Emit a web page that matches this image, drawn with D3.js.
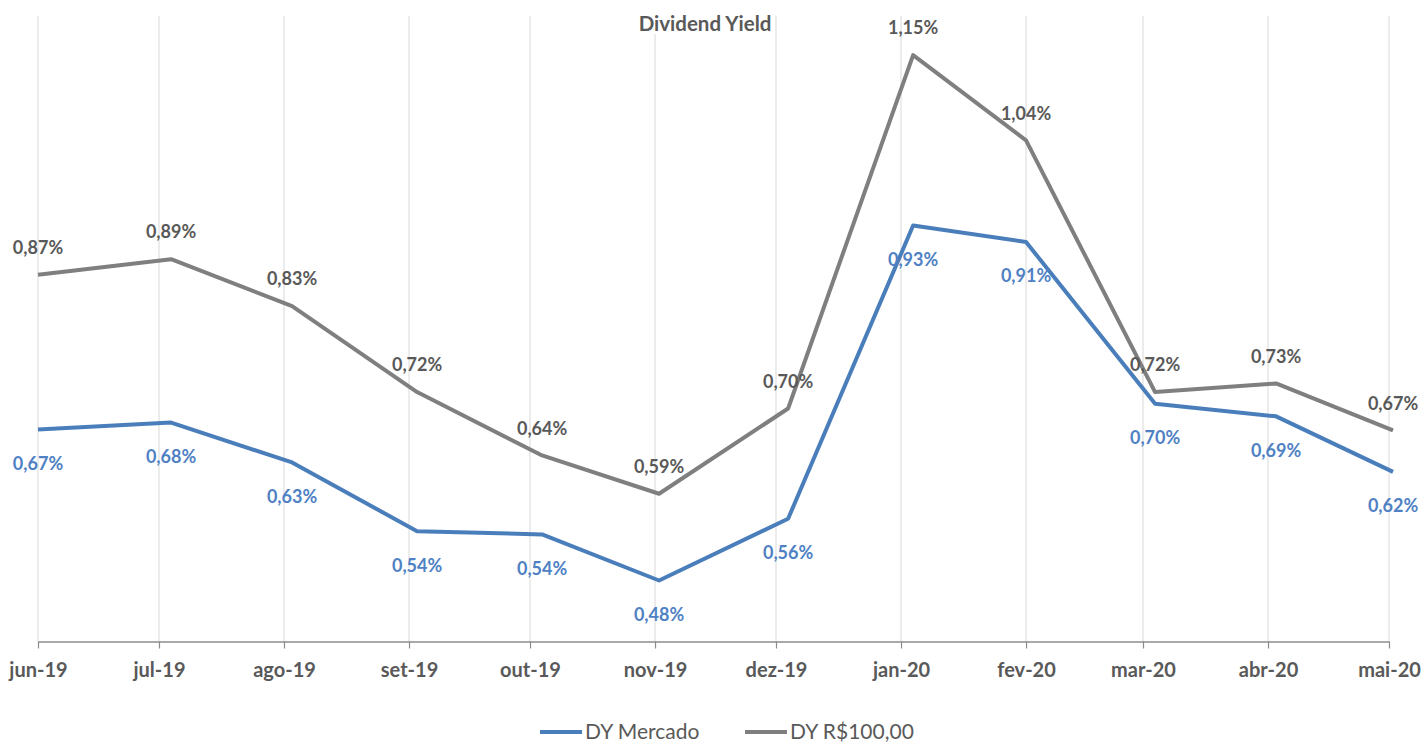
<!DOCTYPE html>
<html>
<head>
<meta charset="utf-8">
<script src="https://cdn.jsdelivr.net/npm/d3@7"></script>
<style>
  body { margin: 0; background: #fff; }
  svg { display: block; font-family: Lato, "Open Sans", sans-serif; }
</style>
</head>
<body>
<svg id="chart" width="1428" height="744"></svg>
<script>
// month ticks on the axis
const months = ["jun-19", "jul-19", "ago-19", "set-19", "out-19", "nov-19",
  "dez-19", "jan-20", "fev-20", "mar-20", "abr-20", "mai-20"];
// the day each value was taken (date axis, like the original sheet)
const dates = ["2019-06-01", "2019-07-04", "2019-08-03", "2019-09-03", "2019-10-04", "2019-11-02",
  "2019-12-04", "2020-01-04", "2020-02-01", "2020-03-04", "2020-04-03", "2020-05-02"];
const dyMercado = [0.671, 0.680, 0.629, 0.541, 0.537, 0.478, 0.557, 0.932, 0.911, 0.704, 0.688, 0.617];
const dyR100 = [0.869, 0.889, 0.829, 0.719, 0.638, 0.589, 0.698, 1.150, 1.041, 0.719, 0.730, 0.670];

const plotLeft = 38, plotRight = 1389, plotTop = 16, plotBottom = 641.5;

const parse = d3.utcParse("%Y-%m-%d");
const tickDates = months.map((m, i) => d3.utcMonth.offset(parse("2019-06-01"), i));

const x = d3.scaleUtc([tickDates[0], tickDates[tickDates.length - 1]], [plotLeft, plotRight]);
const y = d3.scaleLinear([0.4, 1.2], [plotBottom, plotTop]);

const svg = d3.select("#chart");
const fmt = v => d3.format(".2f")(v).replace(".", ",") + "%";

// vertical gridlines
svg.append("g")
  .selectAll("line")
  .data(tickDates)
  .join("line")
  .attr("x1", d => x(d)).attr("x2", d => x(d))
  .attr("y1", plotTop).attr("y2", plotBottom)
  .attr("stroke", "#d9d9d9")
  .attr("stroke-width", 1);

// x axis
const xAxis = svg.append("g")
  .attr("transform", `translate(0,${plotBottom})`)
  .call(d3.axisBottom(x)
    .tickValues(tickDates)
    .tickFormat((d, i) => months[i])
    .tickSizeInner(7)
    .tickSizeOuter(0)
    .tickPadding(14));
xAxis.select(".domain").attr("stroke", "#8c8c8c").attr("stroke-width", 1.5);
xAxis.selectAll(".tick line").attr("stroke", "#8c8c8c").attr("stroke-width", 1.2);
xAxis.selectAll(".tick text")
  .attr("fill", "#595959")
  .attr("font-size", 20)
  .attr("font-weight", "bold")
  .attr("font-family", "Lato, sans-serif");

// title with white box behind it
const title = svg.append("g");
title.append("rect")
  .attr("x", 638).attr("y", 8).attr("width", 134).attr("height", 26)
  .attr("fill", "#fff");
title.append("text")
  .attr("x", 705).attr("y", 31)
  .attr("text-anchor", "middle")
  .attr("fill", "#595959")
  .attr("font-size", 20.5)
  .attr("font-weight", "bold")
  .text("Dividend Yield");

const series = [
  {name: "DY Mercado", values: dyMercado, color: "#4a7ebb", label: "#4f81c4", dy: 34},
  {name: "DY R$100,00", values: dyR100, color: "#7f7f7f", label: "#595959", dy: -27}
];

const line = d3.line()
  .x((d, i) => x(parse(dates[i])))
  .y(d => y(d));

svg.append("g")
  .selectAll("path")
  .data(series)
  .join("path")
  .attr("fill", "none")
  .attr("stroke", s => s.color)
  .attr("stroke-width", 4)
  .attr("stroke-linejoin", "round")
  .attr("d", s => line(s.values));

// data labels
series.forEach(s => {
  svg.append("g")
    .selectAll("text")
    .data(s.values)
    .join("text")
    .attr("x", (d, i) => Math.min(x(parse(dates[i])), 1395))
    .attr("y", d => y(d) + s.dy)
    .attr("dy", "0.35em")
    .attr("text-anchor", "middle")
    .attr("fill", s.label)
    .attr("font-size", 18)
    .attr("font-weight", "bold")
    .text(fmt);
});

// legend
const legend = svg.append("g")
  .attr("transform", "translate(540,732)");
const item = legend.selectAll("g")
  .data(series)
  .join("g")
  .attr("transform", (d, i) => `translate(${i * 205},0)`);
item.append("line")
  .attr("x1", 0).attr("x2", 42)
  .attr("stroke", d => d.color)
  .attr("stroke-width", 4);
item.append("text")
  .attr("x", 45)
  .attr("dy", "0.35em")
  .attr("fill", "#595959")
  .attr("font-size", 21)
  .text(d => d.name);
</script>
</body>
</html>
